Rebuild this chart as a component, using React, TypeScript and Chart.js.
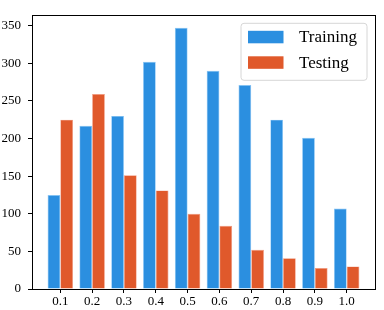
import React, { useEffect, useRef } from "react";
import { Chart, registerables } from "chart.js";

Chart.register(...registerables);

const bins = [0.1, 0.2, 0.3, 0.4, 0.5, 0.6, 0.7, 0.8, 0.9, 1.0];
const trainingValues = [125, 217, 230, 302, 347, 290, 271, 225, 201, 107];
const testingValues = [225, 259, 151, 131, 100, 84, 52, 41, 28, 30];
const yTicks = [0, 50, 100, 150, 200, 250, 300, 350];
const seriesLabels = ["Training", "Testing"];

const FONT = "'Liberation Serif', 'Times New Roman', serif";
const BLUE = "#2b8fe0";
const ORANGE = "#e0592b";

const framePlugin = {
  id: "frame",
  afterDatasetsDraw(chart: any) {
    const { ctx, chartArea } = chart;
    ctx.save();
    ctx.strokeStyle = "#000";
    ctx.lineWidth = 1;
    ctx.strokeRect(
      Math.round(chartArea.left) + 0.5,
      Math.round(chartArea.top) + 0.5,
      Math.round(chartArea.right - chartArea.left),
      Math.round(chartArea.bottom - chartArea.top)
    );
    ctx.restore();
  },
};

const legendPlugin = {
  id: "boxLegend",
  afterDraw(chart: any) {
    const { ctx, chartArea } = chart;
    const ds = chart.data.datasets;
    const x = chartArea.right - 134;
    const y = chartArea.top + 8.5;
    const w = 126;
    const h = 57;
    ctx.save();
    ctx.beginPath();
    const r = 3;
    ctx.moveTo(x + r, y);
    ctx.lineTo(x + w - r, y);
    ctx.quadraticCurveTo(x + w, y, x + w, y + r);
    ctx.lineTo(x + w, y + h - r);
    ctx.quadraticCurveTo(x + w, y + h, x + w - r, y + h);
    ctx.lineTo(x + r, y + h);
    ctx.quadraticCurveTo(x, y + h, x, y + h - r);
    ctx.lineTo(x, y + r);
    ctx.quadraticCurveTo(x, y, x + r, y);
    ctx.closePath();
    ctx.fillStyle = "rgba(255,255,255,0.8)";
    ctx.fill();
    ctx.strokeStyle = "#d6d6d6";
    ctx.lineWidth = 1;
    ctx.stroke();
    ds.forEach((d: any, i: number) => {
      const sy = y + 7.5 + i * 25.5;
      ctx.fillStyle = d.backgroundColor;
      ctx.fillRect(x + 7, sy, 35.5, 12.5);
      ctx.fillStyle = "#000";
      ctx.font = `17px ${FONT}`;
      ctx.textBaseline = "middle";
      ctx.textAlign = "left";
      ctx.fillText(d.label, x + 58, sy + 7);
    });
    ctx.restore();
  },
};

export default function App() {
  const ref = useRef<HTMLCanvasElement | null>(null);

  useEffect(() => {
    document.body.style.margin = "0";
    const canvas = ref.current;
    if (!canvas) return;
    const yMax = Math.max(...trainingValues, ...testingValues) * 1.05;
    const chart = new Chart(canvas, {
      type: "bar",
      data: {
        datasets: [
          {
            label: seriesLabels[0],
            data: trainingValues.map((v, i) => ({ x: bins[i], y: v })),
            backgroundColor: BLUE,
            borderColor: "rgba(120,190,245,0.9)",
            borderWidth: 0.7,
            categoryPercentage: 0.8,
            barPercentage: 1.0,
          },
          {
            label: seriesLabels[1],
            data: testingValues.map((v, i) => ({ x: bins[i], y: v })),
            backgroundColor: ORANGE,
            borderColor: "rgba(240,140,110,0.9)",
            borderWidth: 0.7,
            categoryPercentage: 0.8,
            barPercentage: 1.0,
          },
        ],
      },
      options: {
        responsive: false,
        animation: false,
        devicePixelRatio: 1,
        layout: { padding: { left: 0, right: 9, top: 11, bottom: 0 } },
        plugins: {
          legend: { display: false },
          tooltip: { enabled: false },
        },
        scales: {
          x: {
            type: "linear",
            min: 0.011,
            max: 1.089,
            offset: false,
            border: { display: false },
            grid: {
              offset: false,
              drawOnChartArea: false,
              drawTicks: true,
              tickLength: 4,
              tickColor: "#000",
            },
            ticks: {
              color: "#000",
              font: { family: FONT, size: 13 },
              padding: 1,
              maxRotation: 0,
              autoSkip: false,
              callback: (v: any) => Number(v).toFixed(1),
            },
            afterBuildTicks: (scale: any) => {
              scale.ticks = bins.map((v) => ({ value: v }));
            },
            afterFit: (scale: any) => {
              scale.height = 21;
            },
          },
          y: {
            min: 0,
            max: yMax,
            border: { display: false },
            grid: {
              offset: false,
              drawOnChartArea: false,
              drawTicks: true,
              tickLength: 4,
              tickColor: "#000",
            },
            ticks: {
              color: "#000",
              font: { family: FONT, size: 13 },
              padding: 7,
            },
            afterBuildTicks: (scale: any) => {
              scale.ticks = yTicks.map((v) => ({ value: v }));
            },
            afterFit: (scale: any) => {
              scale.width = 32;
            },
          },
        },
      },
      plugins: [framePlugin, legendPlugin],
    } as any);
    return () => chart.destroy();
  }, []);

  return (
    <div style={{ width: 384, height: 310 }}>
      <canvas ref={ref} width={384} height={310} style={{ display: "block" }} />
    </div>
  );
}
